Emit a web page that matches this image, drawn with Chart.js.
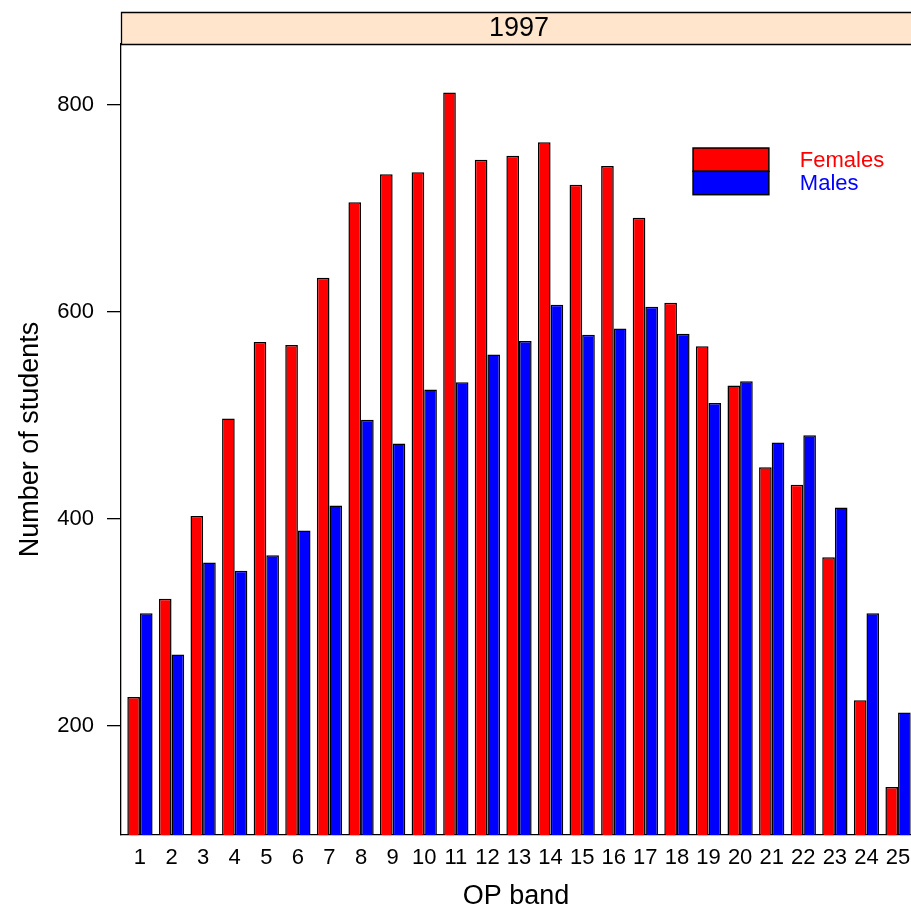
<!DOCTYPE html>
<html>
<head>
<meta charset="utf-8">
<script src="https://cdn.jsdelivr.net/npm/chart.js@4"></script>
<style>
  html, body { margin: 0; padding: 0; background: #fff; overflow: hidden; }
  canvas { display: block; }
</style>
</head>
<body>
<canvas id="grafico" width="911" height="909"></canvas>
<script>
const bands = [1, 2, 3, 4, 5, 6, 7, 8, 9, 10, 11, 12, 13, 14, 15, 16, 17, 18, 19, 20, 21, 22, 23, 24, 25];
const females = [228, 323, 403, 497, 571, 568, 633, 706, 733, 735, 812, 747, 751, 764, 723, 741, 691, 609, 567, 529, 450, 433, 363, 225, 141];
const males = [309, 269, 358, 350, 365, 389, 413, 496, 473, 525, 532, 559, 572, 607, 578, 584, 605, 579, 512, 533, 474, 481, 411, 309, 213];
const yTicks = [200, 400, 600, 800];
const panelTitle = '1997';
const seriesNames = ['Females', 'Males'];
const seriesColors = ['#ff0000', '#0000ff'];

const fuente = 'Liberation Sans, Arial, Helvetica, sans-serif';

// el panel sigue más allá del borde derecho (cortado), como en la imagen
const xMin = 0.4;
const xMaxPanel = 25.6;
const xMaxVisible = 25.41;

// tira superior del panel (estilo lattice) + leyenda dentro del panel
const panelPlugin = {
  id: 'panelLattice',
  afterDraw(chart) {
    const ctx = chart.ctx;
    const a = chart.chartArea;
    const xs = chart.scales.x;
    ctx.save();
    // strip
    ctx.fillStyle = '#ffe5cc';
    ctx.fillRect(a.left, 12, a.right - a.left, a.top - 12);
    ctx.strokeStyle = '#000';
    ctx.lineWidth = 1.3;
    ctx.beginPath();
    ctx.moveTo(a.right, 12.5);
    ctx.lineTo(a.left + 0.5, 12.5);
    ctx.lineTo(a.left + 0.5, a.top + 0.5);
    ctx.lineTo(a.right, a.top + 0.5);
    ctx.stroke();
    ctx.fillStyle = '#000';
    ctx.font = '27px ' + fuente;
    ctx.textAlign = 'center';
    ctx.textBaseline = 'middle';
    const centro = xs.getPixelForValue((xMin + xMaxPanel) / 2);
    ctx.fillText(panelTitle, centro, (12 + a.top) / 2 + 1);

    // leyenda
    const h = a.bottom - a.top;
    const bx = xs.getPixelForValue(18.51);
    const bw = xs.getPixelForValue(20.91) - bx;
    const by = a.top + h * 0.1315, bh = h * 0.0295;
    for (let i = 0; i < seriesNames.length; i++) {
      ctx.fillStyle = seriesColors[i];
      ctx.fillRect(bx, by + i * bh, bw, bh);
      ctx.lineWidth = 1.5;
      ctx.strokeStyle = '#000';
      ctx.strokeRect(bx, by + i * bh, bw, bh);
      ctx.fillStyle = seriesColors[i];
      ctx.font = '22px ' + fuente;
      ctx.textAlign = 'left';
      ctx.textBaseline = 'middle';
      ctx.fillText(seriesNames[i], bx + bw + 31, by + i * bh + bh / 2 + 1);
    }
    ctx.restore();
  }
};

const datos = {
  datasets: [
    {
      label: seriesNames[0],
      data: bands.map((b, i) => ({ x: b, y: females[i] })),
      backgroundColor: seriesColors[0],
      borderColor: '#000',
      borderWidth: 1.5,
      borderSkipped: false,
      categoryPercentage: 0.8,
      barPercentage: 1.0
    },
    {
      label: seriesNames[1],
      data: bands.map((b, i) => ({ x: b, y: males[i] })),
      backgroundColor: seriesColors[1],
      borderColor: '#000',
      borderWidth: 1.5,
      borderSkipped: false,
      categoryPercentage: 0.8,
      barPercentage: 1.0
    }
  ]
};

const opciones = {
  responsive: false,
  animation: false,
  layout: { padding: { top: 44, left: 0, right: 0, bottom: 0 } },
  plugins: {
    legend: { display: false },
    tooltip: { enabled: false }
  },
  scales: {
    x: {
      type: 'linear',
      min: xMin,
      max: xMaxVisible,
      offset: false,
      afterBuildTicks: (scale) => { scale.ticks = bands.map(v => ({ value: v })); },
      afterFit: (scale) => {
        scale.height = 74;
        // sin margen extra para la última etiqueta
        scale.paddingLeft = 0;
        scale.paddingRight = 0;
      },
      grid: { display: false, drawTicks: false, tickLength: 0 },
      border: { display: true, color: '#000', width: 1.3 },
      ticks: {
        color: '#000',
        font: { size: 22, family: fuente },
        padding: 10,
        maxRotation: 0,
        autoSkip: false,
        callback: (v) => String(v)
      },
      title: {
        display: true,
        text: 'OP band',
        color: '#000',
        font: { size: 27, family: fuente, lineHeight: 0.9 },
        padding: { top: 0, bottom: 0 }
      }
    },
    y: {
      min: 94.7,
      max: 858.9,
      afterBuildTicks: (scale) => { scale.ticks = yTicks.map(v => ({ value: v })); },
      afterFit: (scale) => { scale.width = 121; },
      grid: { drawOnChartArea: false, drawTicks: true, tickLength: 14, color: '#000', lineWidth: 1.3 },
      border: { display: true, color: '#000', width: 1.3 },
      ticks: {
        color: '#000',
        font: { size: 22, family: fuente },
        padding: 13,
        callback: (v) => String(v)
      },
      title: {
        display: true,
        text: 'Number of students',
        color: '#000',
        font: { size: 27, family: fuente, lineHeight: 0.9 },
        padding: { top: 18, bottom: 0 }
      }
    }
  }
};

const ctx = document.getElementById('grafico').getContext('2d');
const grafico = new Chart(ctx, {
  type: 'bar',
  data: datos,
  options: opciones,
  plugins: [panelPlugin]
});
</script>
</body>
</html>
